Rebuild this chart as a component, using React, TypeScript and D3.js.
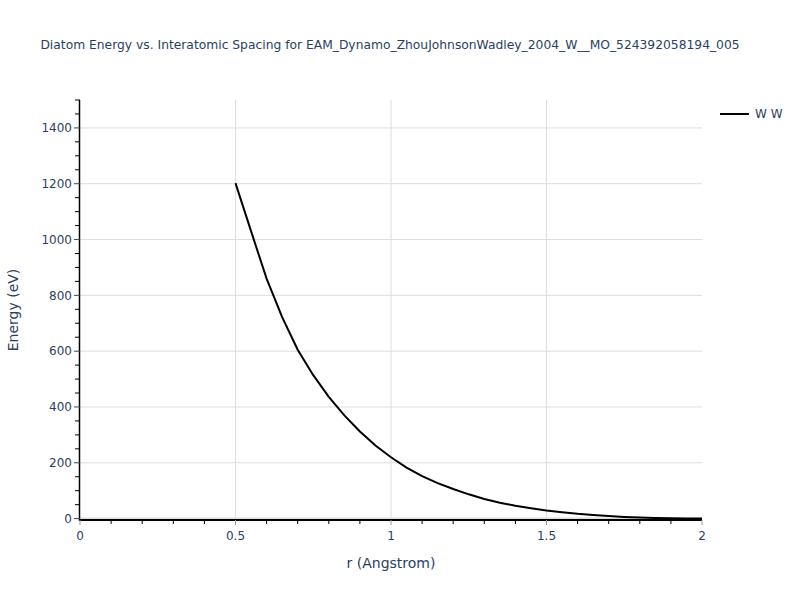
import * as d3 from "d3";

const width = 800;
const height = 600;
const marginTop = 100;
const marginBottom = 80;
const marginLeft = 80;
const marginRight = 98;

// Diatom energy curve
const rValues = [
  0.5, 0.55, 0.6, 0.65, 0.7, 0.75, 0.8, 0.85, 0.9, 0.95, 1.0, 1.05, 1.1, 1.15,
  1.2, 1.25, 1.3, 1.35, 1.4, 1.45, 1.5, 1.55, 1.6, 1.65, 1.7, 1.75, 1.8, 1.85,
  1.9, 1.95, 2.0,
];
const energyValues = [
  1202, 1030, 860, 722, 605, 514, 436, 370, 312, 262, 220, 183, 152, 127, 106,
  87, 70, 57, 46, 37, 29, 23, 17, 12.5, 9, 6, 4, 2.3, 1.2, 0.5, 0,
];

const xTicks = [0, 0.5, 1, 1.5, 2];
const yTicks = [0, 200, 400, 600, 800, 1000, 1200, 1400];
const seriesName = "W W";
const title =
  "Diatom Energy vs. Interatomic Spacing for EAM_Dynamo_ZhouJohnsonWadley_2004_W__MO_524392058194_005";

const fontFamily = '"DejaVu Sans", verdana, arial, sans-serif';
const textColor = "#2a3f5f";
const gridColor = "#dddddd";

const App = () => {
  const data = rValues.map((r, i) => ({ r, e: energyValues[i] }));
  const chartBottomY = height - marginBottom;
  const chartRightX = width - marginRight;

  const xScale = d3.scaleLinear().domain([0, 2]).range([marginLeft, chartRightX]);
  const yScale = d3.scaleLinear().domain([-5, 1500]).range([chartBottomY, marginTop]);

  const xMinor = d3.range(0, 2.0001, 0.1).filter((v) => Math.abs(v * 2 - Math.round(v * 2)) > 1e-6);
  const yMinor = d3.range(0, 1501, 50).filter((v) => v % 200 !== 0);

  const line = d3
    .line<{ r: number; e: number }>()
    .x((d) => xScale(d.r))
    .y((d) => yScale(d.e));

  return (
    <svg width={width} height={height} style={{ display: "block", position: "absolute", left: 0, top: 0 }} fontFamily={fontFamily}>
      <rect width={width} height={height} fill="#fff" />
      {/* grid */}
      <g className="grid">
        {yTicks.filter((t) => t !== 0).map((t) => (
          <line key={t} x1={marginLeft} x2={chartRightX} y1={yScale(t)} y2={yScale(t)} stroke={gridColor} strokeWidth={1} />
        ))}
        {xTicks.filter((t) => t !== 0 && t !== 2).map((t) => (
          <line key={t} x1={xScale(t)} x2={xScale(t)} y1={marginTop} y2={chartBottomY} stroke={gridColor} strokeWidth={1} />
        ))}
        <line x1={marginLeft} x2={chartRightX} y1={yScale(0)} y2={yScale(0)} stroke={gridColor} strokeWidth={2} />
      </g>
      {/* curve */}
      <path d={line(data) ?? ""} fill="none" stroke="#000" strokeWidth={2} />
      {/* y axis */}
      <g className="y-axis">
        <line x1={marginLeft - 0.5} x2={marginLeft - 0.5} y1={marginTop} y2={chartBottomY + 1} stroke="#000" strokeWidth={1.5} />
        {yMinor.map((t) => (
          <line key={t} x1={marginLeft - 5} x2={marginLeft} y1={yScale(t)} y2={yScale(t)} stroke="#000" strokeWidth={1} />
        ))}
        {yTicks.map((t) => (
          <g key={t}>
            <line x1={marginLeft - 6} x2={marginLeft} y1={yScale(t)} y2={yScale(t)} stroke="#444" strokeWidth={1} />
            <text x={marginLeft - 8} y={yScale(t)} dy="0.35em" textAnchor="end" fontSize={12} fill={textColor}>
              {t}
            </text>
          </g>
        ))}
      </g>
      {/* x axis */}
      <g className="x-axis">
        <line x1={marginLeft - 1} x2={chartRightX} y1={chartBottomY} y2={chartBottomY} stroke="#000" strokeWidth={2} />
        {xMinor.map((t) => (
          <line key={t} x1={xScale(t)} x2={xScale(t)} y1={chartBottomY} y2={chartBottomY + 4} stroke="#000" strokeWidth={1} />
        ))}
        {xTicks.map((t) => (
          <g key={t}>
            <line x1={xScale(t)} x2={xScale(t)} y1={chartBottomY} y2={chartBottomY + 5} stroke="#999" strokeWidth={1} />
            <text x={xScale(t)} y={chartBottomY + 20} textAnchor="middle" fontSize={12} fill={textColor}>
              {t}
            </text>
          </g>
        ))}
      </g>
      {/* axis titles */}
      <text x={(marginLeft + chartRightX) / 2} y={568} textAnchor="middle" fontSize={14} fill={textColor}>
        r (Angstrom)
      </text>
      <text
        transform={`translate(18,${(marginTop + chartBottomY) / 2}) rotate(-90)`}
        textAnchor="middle"
        fontSize={14}
        fill={textColor}
      >
        Energy (eV)
      </text>
      {/* title */}
      <text x={390} y={49} textAnchor="middle" fontSize={12.3} fill={textColor}>
        {title}
      </text>
      {/* legend */}
      <g className="legend">
        <line x1={720} x2={749} y1={114} y2={114} stroke="#000" strokeWidth={2} />
        <text x={755} y={114} dy="0.35em" fontSize={12} fill={textColor}>
          {seriesName}
        </text>
      </g>
    </svg>
  );
};

export default App;
